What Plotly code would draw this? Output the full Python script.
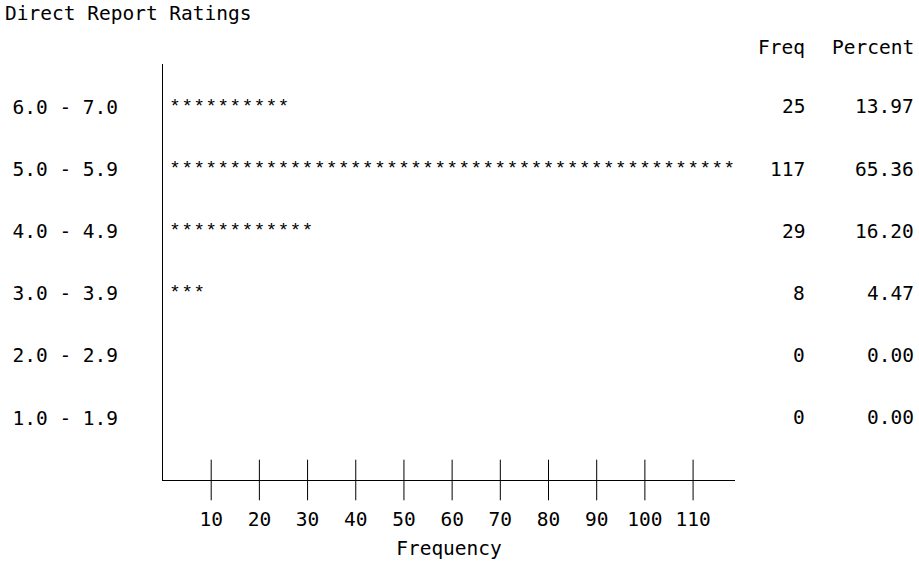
import plotly.graph_objects as go

# Rating bins (top to bottom), their frequencies and percentages
bins = ["6.0 - 7.0", "5.0 - 5.9", "4.0 - 4.9", "3.0 - 3.9", "2.0 - 2.9", "1.0 - 1.9"]
bin_pos = [6, 5, 4, 3, 2, 1]
freq = [25, 117, 29, 8, 0, 0]
percent = [13.97, 65.36, 16.20, 4.47, 0.00, 0.00]
freq_ticks = [10, 20, 30, 40, 50, 60, 70, 80, 90, 100, 110]

STAR_UNIT = 2.5          # each '*' stands for 2.5 observations
MONO = "DejaVu Sans Mono"
SANS = "Liberation Sans"
FS = 19.5

W, H = 919, 567
L, R, T, B = 157, 735, 64, 494   # plot area in pixels


def px_x(px):
    return (px - L) / (R - L)


def px_y(py):
    return (B - py) / (B - T)


fig = go.Figure()

# asterisk bars
sx, sy = [], []
for f, y in zip(freq, bin_pos):
    n = int(round(f / STAR_UNIT))
    for k in range(1, n + 1):
        sx.append(k * STAR_UNIT)
        sy.append(y)
fig.add_trace(go.Scatter(
    x=sx, y=sy, mode="text", text=["*"] * len(sx),
    textposition="middle center",
    textfont=dict(family=SANS, size=19, color="black"),
    hoverinfo="skip", showlegend=False, cliponaxis=False,
))

# tick marks crossing the frequency axis
fig.add_trace(go.Scatter(
    x=freq_ticks, y=[0] * len(freq_ticks), mode="markers",
    marker=dict(symbol="line-ns-open", size=29, color="black",
                line=dict(color="black", width=1)),
    hoverinfo="skip", showlegend=False, cliponaxis=False,
))

annotations = []
# column headers
annotations.append(dict(text="Freq", xref="paper", yref="paper",
                        x=px_x(808), y=px_y(47), xanchor="right", yanchor="middle",
                        showarrow=False, font=dict(family=MONO, size=FS, color="black")))
annotations.append(dict(text="Percent", xref="paper", yref="paper",
                        x=px_x(918), y=px_y(47), xanchor="right", yanchor="middle",
                        showarrow=False, font=dict(family=MONO, size=FS, color="black")))
# frequency / percent columns
for f, p, y in zip(freq, percent, bin_pos):
    annotations.append(dict(text=str(f), xref="paper", yref="y",
                            x=px_x(808), y=y, xanchor="right", yanchor="middle",
                            showarrow=False, font=dict(family=MONO, size=FS, color="black")))
    annotations.append(dict(text=f"{p:.2f}", xref="paper", yref="y",
                            x=px_x(918), y=y, xanchor="right", yanchor="middle",
                            showarrow=False, font=dict(family=MONO, size=FS, color="black")))

fig.update_layout(
    width=W, height=H,
    margin=dict(l=L, r=W - R, t=T, b=H - B),
    paper_bgcolor="white", plot_bgcolor="white",
    title=dict(text="Direct Report Ratings", xref="container", yref="container",
               x=5 / W, y=1 - 13 / H, xanchor="left", yanchor="middle",
               font=dict(family=MONO, size=FS, color="black")),
    annotations=annotations,
    showlegend=False,
)

fig.update_xaxes(
    range=[0, 118.7], tickvals=freq_ticks, ticktext=[str(t) for t in freq_ticks],
    ticks="", showgrid=False, zeroline=False,
    showline=True, linecolor="black", linewidth=1,
    ticklabelstandoff=22,
    tickfont=dict(family=MONO, size=FS, color="black"),
    title=dict(text="Frequency", standoff=10,
               font=dict(family=MONO, size=FS, color="black")),
)
fig.update_yaxes(
    range=[0, 6.69], tickvals=bin_pos, ticktext=bins,
    ticks="", showgrid=False, zeroline=False,
    showline=True, linecolor="black", linewidth=1,
    ticklabelstandoff=40,
    tickfont=dict(family=MONO, size=FS, color="black"),
)

fig.write_html("out.html")
